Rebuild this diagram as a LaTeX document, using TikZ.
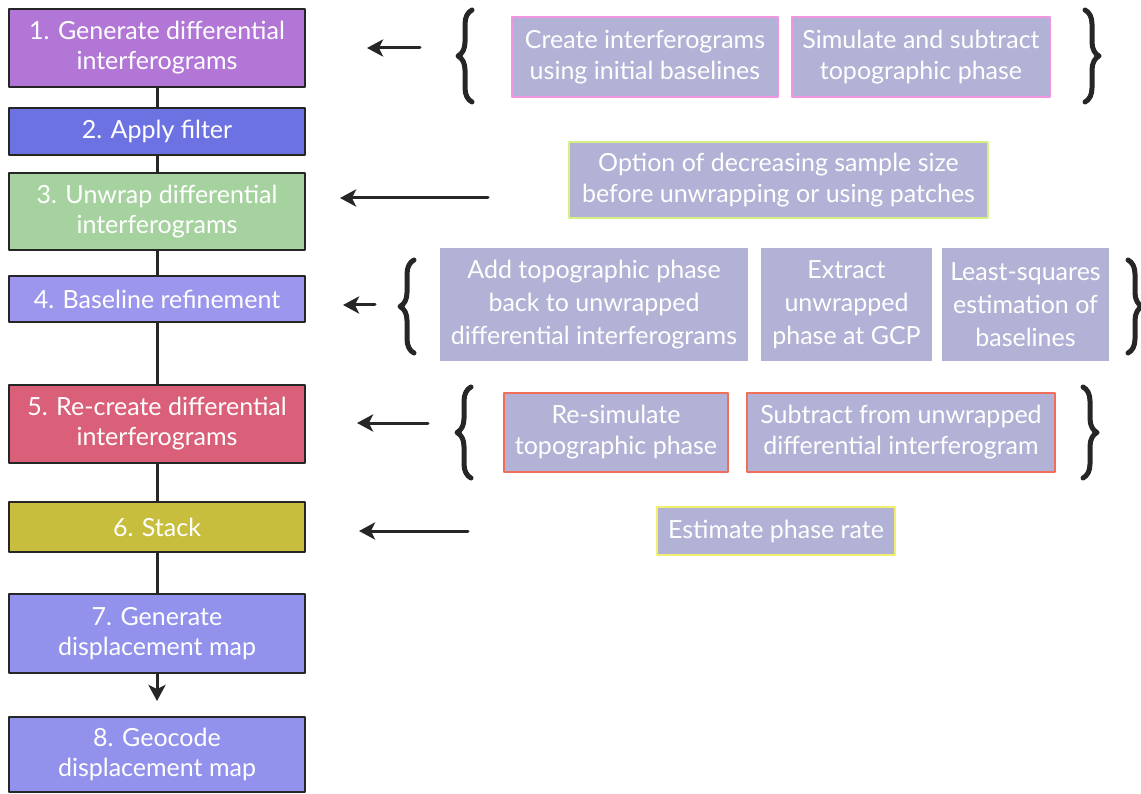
\documentclass[tikz,border=0pt]{standalone}
\usepackage{fontspec}
\setmainfont{Lato}
\usetikzlibrary{arrows.meta,decorations.pathreplacing}

\definecolor{stepone}{RGB}{178,118,214}
\definecolor{steptwo}{RGB}{108,114,226}
\definecolor{stepthree}{RGB}{166,210,160}
\definecolor{stepfour}{RGB}{156,150,236}
\definecolor{stepfive}{RGB}{218,96,122}
\definecolor{stepsix}{RGB}{200,190,62}
\definecolor{stepmap}{RGB}{146,146,236}
\definecolor{notefill}{RGB}{178,178,214}
\definecolor{edgepink}{RGB}{240,150,225}
\definecolor{edgelime}{RGB}{215,240,130}
\definecolor{edgered}{RGB}{240,110,90}
\definecolor{edgeyellow}{RGB}{240,240,110}

\begin{document}
\begin{tikzpicture}[x=1pt,y=-1pt,line cap=round,line join=round,>={Stealth[length=16pt,width=17pt,inset=4pt]}]
  \tikzset{
    stepbox/.style={draw=black!85,line width=2pt,minimum width=296pt,text=white,align=center,inner sep=0pt,font=\fontsize{25}{30}\selectfont},
    notebox/.style={fill=notefill,line width=1.5pt,text=white,align=center,inner sep=0pt,font=\fontsize{25}{31}\selectfont},
    link/.style={line width=3pt,draw=black!85,line cap=butt},
    leftarrow/.style={line width=3pt,draw=black!85,->},
    bracket/.style={decorate,decoration={brace,amplitude=14pt,aspect=0.5},line width=5pt,draw=black!85},
  }
  \useasboundingbox (0,0) rectangle (1141,794);

  % ==================== steps ====================
  \node[stepbox,fill=stepone,minimum height=78pt]   (s1) at (157,48)    {1. Generate differential\\interferograms};
  \node[stepbox,fill=steptwo,minimum height=47pt]   (s2) at (157,131.5) {2. Apply filter};
  \node[stepbox,fill=stepthree,minimum height=77pt] (s3) at (157,211.5) {3. Unwrap differential\\interferograms};
  \node[stepbox,fill=stepfour,minimum height=46pt]  (s4) at (157,299)   {4. Baseline refinement};
  \node[stepbox,fill=stepfive,minimum height=78pt]  (s5) at (157,424)   {5. Re-create differential\\interferograms};
  \node[stepbox,fill=stepsix,minimum height=50pt]   (s6) at (157,527)   {6. Stack};
  \node[stepbox,fill=stepmap,minimum height=79pt]   (s7) at (157,633.5) {7. Generate\\displacement map};
  \node[stepbox,fill=stepmap,minimum height=75pt]   (s8) at (157,754.5) {8. Geocode\\displacement map};

  \foreach \a/\b in {s1/s2,s2/s3,s3/s4,s4/s5,s5/s6,s6/s7}
    \draw[link] (\a) -- (\b);
  \draw[link,->,shorten >=15pt] (s7) -- (s8);

  % ==================== step 1 ====================
  \node[notebox,draw=edgepink,minimum width=266pt,minimum height=80pt] (n1a) at (645,57) {Create interferograms\\using initial baselines};
  \node[notebox,draw=edgepink,minimum width=258pt,minimum height=80pt] (n1b) at (921,57) {Simulate and subtract\\topographic phase};
  \draw[bracket] (472,102) -- (472,10);
  \draw[bracket] (1085,10) -- (1085,102);
  \coordinate (t1) at (420,48);
  \coordinate (h1) at (367,48);
  \draw[leftarrow] (t1) -- (h1);

  % ==================== step 3 ====================
  \node[notebox,draw=edgelime,minimum width=419pt,minimum height=76pt] (n3) at (778.5,180) {Option of decreasing sample size\\before unwrapping or using patches};
  \coordinate (t3) at (488,198);
  \coordinate (h3) at (340,198);
  \draw[leftarrow] (t3) -- (h3);

  % ==================== step 4 ====================
  \tikzset{notebox/.append style={font=\fontsize{25}{33}\selectfont}}
  \node[notebox,minimum width=308pt,minimum height=113pt] (n4a) at (594,304.5) {Add topographic phase\\back to unwrapped\\differential interferograms};
  \node[notebox,minimum width=171pt,minimum height=113pt] (n4b) at (846.5,304.5) {Extract\\unwrapped\\phase at GCP};
  \node[notebox,minimum width=167pt,minimum height=113pt] (n4c) at (1025.5,304.5) {Least-squares\\estimation of\\baselines};
  \draw[bracket] (414,353) -- (414,260);
  \draw[bracket] (1128,260) -- (1128,353);
  \coordinate (t4) at (375,305);
  \coordinate (h4) at (343,305);
  \draw[leftarrow] (t4) -- (h4);

  % ==================== step 5 ====================
  \tikzset{notebox/.append style={font=\fontsize{25}{31}\selectfont}}
  \node[notebox,draw=edgered,minimum width=224pt,minimum height=79pt] (n5a) at (616,432.5) {Re-simulate\\topographic phase};
  \node[notebox,draw=edgered,minimum width=308pt,minimum height=79pt] (n5b) at (901,432.5) {Subtract from unwrapped\\differential interferogram};
  \draw[bracket] (471,478) -- (471,387);
  \draw[bracket] (1083,387) -- (1083,478);
  \coordinate (t5) at (428,423);
  \coordinate (h5) at (357,423);
  \draw[leftarrow] (t5) -- (h5);

  % ==================== step 6 ====================
  \node[notebox,draw=edgeyellow,minimum width=238pt,minimum height=48pt] (n6) at (776,531) {Estimate phase rate};
  \coordinate (t6) at (468,531);
  \coordinate (h6) at (359,531);
  \draw[leftarrow] (t6) -- (h6);
\end{tikzpicture}
\end{document}
